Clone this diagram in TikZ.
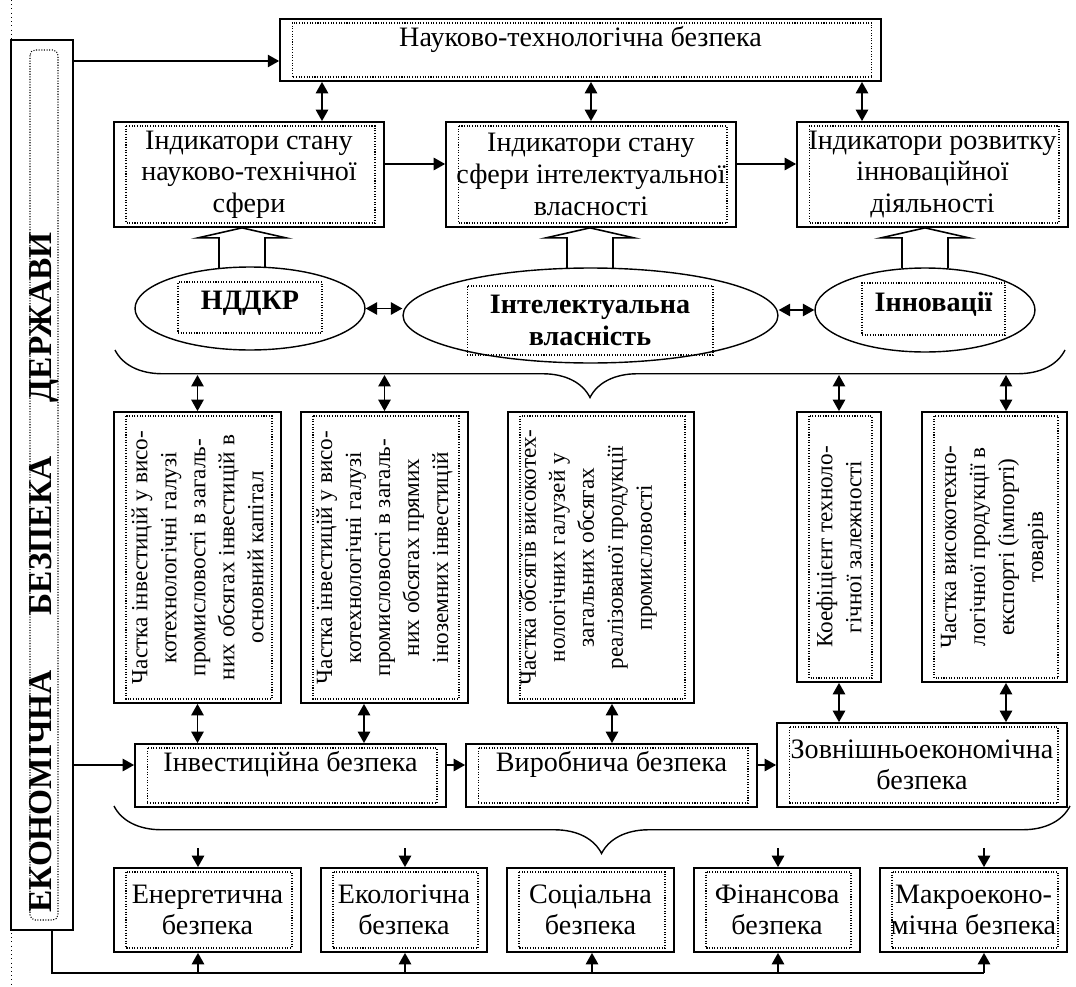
\documentclass[tikz,border=0pt]{standalone}
\usepackage{fontspec}
\setmainfont{Liberation Serif}
\usetikzlibrary{positioning,calc,arrows.meta,fit,shapes.geometric,decorations.pathreplacing}

\tikzset{
  dotln/.style={line width=0.6pt, dash pattern=on 0.6pt off 0.9pt},
  box/.style={draw, line width=1pt, inner sep=0pt, align=center,
    font=\fontsize{16}{18}\selectfont,
    path picture={\draw[dotln] ([xshift=0.24cm,yshift=-0.08cm]path picture bounding box.north west)
      rectangle ([xshift=-0.18cm,yshift=0.08cm]path picture bounding box.south east);}},
  sz/.style 2 args={minimum width=#1cm, minimum height=#2cm},
  dotbox/.style={draw, dotln, inner sep=0pt, align=center, font=\bfseries\fontsize{16}{18.5}\selectfont},
  oval/.style={draw, ellipse, line width=0.8pt, inner sep=0pt},
  vtext/.style={rotate=90, align=center, inner sep=0pt, font=\fontsize{13.2}{16.5}\selectfont},
  arr/.style={-{Triangle[length=6.5pt,width=7pt]}, line width=1pt},
  darr/.style={{Triangle[length=6.5pt,width=7pt]}-{Triangle[length=6.5pt,width=7pt]}, line width=1pt},
  curly/.style={decorate, decoration={brace, mirror, amplitude=0.95cm}, line width=0.8pt},
  upblock/.pic={\draw[line width=0.9pt, fill=white]
    (-23,40) -- (-23,10) -- (-44,10) -- (0,0) -- (44,10) -- (23,10) -- (23,40);}
}

\begin{document}
\begin{tikzpicture}[x=0.02cm, y=-0.02cm]
  \useasboundingbox (0,0) rectangle (1076,987);

  % side frame
  \node[draw, line width=1pt, inner sep=0pt, fit={(11,40) (73,930)}] (econ) {};
  \draw[dotln, rounded corners=3pt] (30,50) rectangle (58,920);
  \node[rotate=90, anchor=west, inner sep=0pt, font=\bfseries\fontsize{19}{21}\selectfont] (econt)
    at (44,913) {ЕКОНОМІЧНА\hspace{31pt}БЕЗПЕКА\hspace{31pt}ДЕРЖАВИ};
  \draw[dotted] (11,0) -- (11,38);
  \draw[dotted] (11,933) -- (11,987);

  % top block
  \node[box, sz={12.02}{1.24}, text depth=16pt] (nauk) at (580.5,50) {Науково-технологічна безпека};
  \node[box, sz={5.4}{2.1}] (ind1) at (249,174.5) {Індикатори стану\\науково-технічної\\сфери};
  \node[box, sz={5.8}{2.1}] (ind2) at (591,174.5) {Індикатори стану\\сфери інтелектуальної\\власності};
  \node[box, sz={5.42}{2.1}] (ind3) at (932.5,174.5) {Індикатори розвитку\\інноваційної\\діяльності};

  \draw[arr] (econ.east |- 0,61) -- (nauk.west |- 0,61);
  \draw[darr] (nauk.south -| 322,0) -- (ind1.north -| 322,0);
  \draw[darr] (nauk.south -| ind2.north) -- (ind2.north);
  \draw[darr] (nauk.south -| 862,0) -- (ind3.north -| 862,0);
  \draw[arr] (ind1.east |- 0,164) -- (ind2.west |- 0,164);
  \draw[arr] (ind2.east |- 0,164) -- (ind3.west |- 0,164);

  % hollow arrows
  \pic at (ind1.south -| 242,0) {upblock};
  \pic at (ind2.south -| 590,0) {upblock};
  \pic at (ind3.south -| 925,0) {upblock};

  % ellipses
  \node[oval, minimum width=4.6cm, minimum height=1.66cm] (ndkr) at (250,308.5) {};
  \node[oval, minimum width=7.5cm, minimum height=1.9cm] (intel) at (590.5,315.5) {};
  \node[oval, minimum width=4.4cm, minimum height=1.68cm] (innov) at (925,310) {};
  \node[dotbox, sz={2.88}{1.02}, text depth=8pt] (ndkrt) at (250,307.5) {НДДКР};
  \node[dotbox, sz={4.92}{1.38}] (intelt) at (590,320.5) {Інтелектуальна\\власність};
  \node[dotbox, sz={2.86}{1.04}, text depth=8.5pt] (innovt) at (933.5,309) {Інновації};
  \draw[darr] (ndkr.east) -- (intel.west |- ndkr.east);
  \draw[darr] (intel.east |- innov.west) -- (innov.west);

  % upper brace
  \draw[curly] (115,350) -- (1065,350);
  \coordinate (bra) at (0,375);

  % indicator columns
  \node[box, fit={(114,412) (281,703)}] (v1) {};
  \node[box, fit={(301,412) (468,703)}] (v2) {};
  \node[box, fit={(508,412) (694,703)}] (v3) {};
  \node[box, fit={(797,412) (881,682)}] (v4) {};
  \node[box, fit={(922,412) (1067,682)}] (v5) {};
  \node[vtext] (v1t) at (v1.center) {Частка інвестицій у висо-\\котехнологічні галузі\\промисловості в загаль-\\них обсягах інвестицій в\\основний капітал};
  \node[vtext] (v2t) at (v2.center) {Частка інвестицій у висо-\\котехнологічні галузі\\промисловості в загаль-\\них обсягах прямих\\іноземних інвестицій};
  \node[vtext, yshift=0.26cm] (v3t) at (v3.center) {Частка обсягів високотех-\\нологічних галузей у\\загальних обсягах\\реалізованої продукції\\промисловості};
  \node[vtext] (v4t) at (v4.center) {Коефіцієнт техноло-\\гічної залежності};
  \node[vtext] (v5t) at (v5.center) {Частка високотехно-\\логічної продукції в\\експорті (імпорті)\\товарів};

  \draw[darr] (v1.north |- bra) -- (v1.north);
  \draw[darr] (v2.north |- bra) -- (v2.north);
  \draw[darr] (v4.north |- bra) -- (v4.north);
  \draw[darr] (bra -| 1006,0) -- (v5.north -| 1006,0);

  % security types
  \node[box, sz={6.22}{1.26}, text depth=16pt] (inv) at (290.5,775.5) {Інвестиційна безпека};
  \node[box, sz={5.82}{1.26}, text depth=16pt] (vyr) at (611.5,775.5) {Виробнича безпека};
  \node[box, sz={5.8}{1.68}] (zovn) at (922,765) {Зовнішньоекономічна\\безпека};

  \draw[darr] (v1.south) -- (inv.north -| v1.south);
  \draw[darr] (v2.south -| 364,0) -- (inv.north -| 364,0);
  \draw[darr] (v3.south -| 612,0) -- (vyr.north -| 612,0);
  \draw[darr] (v4.south) -- (zovn.north -| v4.south);
  \draw[darr] (v5.south -| 1006,0) -- (zovn.north -| 1006,0);
  \draw[arr] (econ.east |- 0,765) -- (inv.west |- 0,765);
  \draw[arr] (inv.east |- 0,765) -- (vyr.west |- 0,765);
  \draw[arr] (vyr.east |- 0,765) -- (zovn.west |- 0,765);

  % lower brace
  \draw[curly, decoration={aspect=0.51}] (114,806) -- (1070,806);
  \coordinate (brb) at (0,848);

  % bottom row
  \node[box, sz={3.74}{1.68}] (en) at (207.5,910) {Енергетична\\безпека};
  \node[box, sz={3.32}{1.68}] (ek) at (404,910) {Екологічна\\безпека};
  \node[box, sz={3.34}{1.68}] (soc) at (590.5,910) {Соціальна\\безпека};
  \node[box, sz={3.32}{1.68}] (fin) at (777,910) {Фінансова\\безпека};
  \node[box, sz={3.74}{1.68}] (mak) at (973.5,910) {Макроеконо-\\мічна безпека};

  \draw[arr] (brb -| 198,0) -- (en.north -| 198,0);
  \draw[arr] (brb -| 405,0) -- (ek.north -| 405,0);
  \draw[arr] (brb -| 778,0) -- (fin.north -| 778,0);
  \draw[arr] (brb -| 984,0) -- (mak.north -| 984,0);

  \coordinate (feed) at (52,973);
  \draw[line width=1pt] (econ.south -| feed) -- (feed) -- (feed -| 984,0);
  \draw[arr] (feed -| 198,0) -- (en.south -| 198,0);
  \draw[arr] (feed -| 405,0) -- (ek.south -| 405,0);
  \draw[arr] (feed -| 592,0) -- (soc.south -| 592,0);
  \draw[arr] (feed -| 778,0) -- (fin.south -| 778,0);
  \draw[arr] (feed -| 984,0) -- (mak.south -| 984,0);
\end{tikzpicture}
\end{document}
